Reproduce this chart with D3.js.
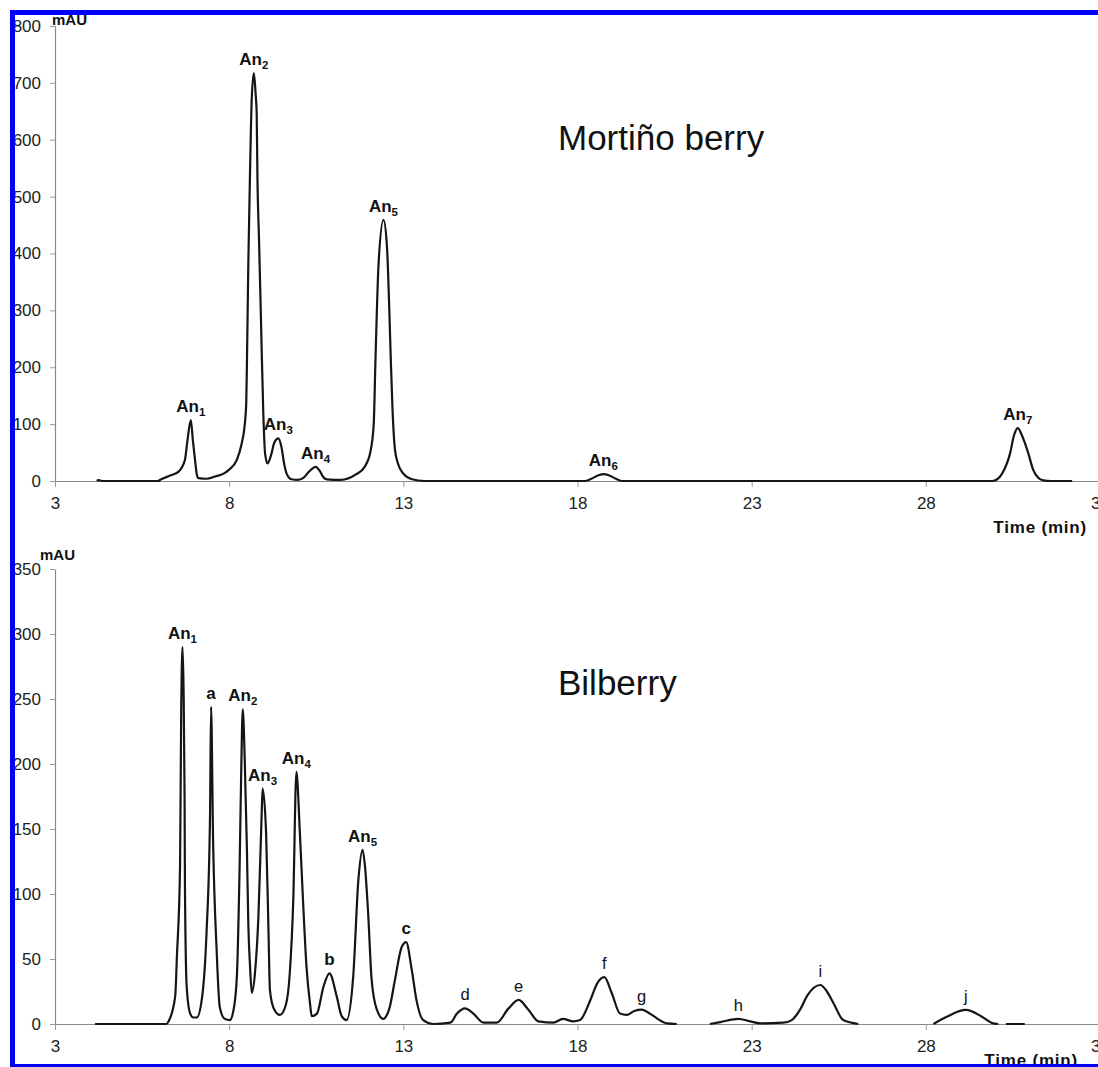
<!DOCTYPE html>
<html>
<head>
<meta charset="utf-8">
<script src="https://cdn.jsdelivr.net/npm/d3@7"></script>
<style>
  body { margin: 0; background: #fff; }
  svg { display: block; font-family: 'Liberation Sans', Arial, sans-serif; }
</style>
</head>
<body>
<script>
// retention time (min), absorbance (mAU); null = gap in the recorded trace
const mortinoTrace = [
  [4.2, 0], [4.25, 1.5], [4.35, 0], [5.95, 0], [6.05, 3], [6.32, 10], [6.54, 16],
  [6.73, 37], [6.8, 70], [6.9, 107], [6.96, 70], [7.02, 37], [7.07, 12], [7.12, 5],
  [7.35, 4], [7.6, 8], [7.84, 13], [8.0, 20], [8.22, 37], [8.36, 66], [8.44, 95],
  [8.49, 137], [8.51, 207], [8.55, 383], [8.6, 547], [8.65, 675], [8.71, 717],
  [8.76, 680], [8.79, 647], [8.81, 541], [8.86, 418], [8.92, 265], [8.98, 119],
  [9.03, 49], [9.1, 31], [9.2, 45], [9.3, 68], [9.41, 75], [9.5, 60], [9.58, 30],
  [9.65, 13], [9.79, 3], [9.95, 2], [10.12, 5], [10.3, 17], [10.48, 25], [10.6, 18],
  [10.7, 7], [10.8, 3], [11.2, 2], [11.65, 12], [11.88, 24], [12.05, 50], [12.15, 100],
  [12.2, 213], [12.29, 383], [12.43, 459], [12.53, 412], [12.6, 295], [12.64, 213],
  [12.69, 125], [12.76, 55], [12.85, 30], [13.0, 13], [13.25, 3], [13.6, 0],
  [18.2, 0], [18.4, 4], [18.6, 10], [18.74, 12], [18.9, 10], [19.1, 4], [19.3, 0],
  [29.9, 0], [30.05, 3], [30.2, 14], [30.42, 49], [30.53, 80], [30.64, 93], [30.76, 80],
  [30.94, 49], [31.08, 20], [31.22, 6], [31.37, 1], [31.6, 0], [32.2, 0],
];

const bilberryTrace = [
  [4.15, 0], [6.2, 0], [6.26, 2], [6.45, 21], [6.5, 52], [6.59, 121], [6.62, 231],
  [6.66, 290], [6.69, 259], [6.72, 174], [6.73, 108], [6.78, 29], [6.88, 8], [6.97, 5],
  [7.07, 5], [7.22, 20], [7.35, 70], [7.45, 159], [7.48, 244], [7.54, 139], [7.64, 57],
  [7.73, 13], [7.87, 4], [8.02, 3], [8.12, 10], [8.22, 36], [8.3, 121], [8.35, 200],
  [8.39, 242], [8.45, 200], [8.51, 134], [8.55, 77], [8.6, 44], [8.65, 24], [8.74, 39],
  [8.84, 83], [8.93, 159], [8.96, 181], [9.06, 147], [9.13, 70], [9.17, 26], [9.28, 12],
  [9.46, 7], [9.63, 15], [9.74, 39], [9.84, 95], [9.93, 194], [10.03, 147], [10.12, 95],
  [10.22, 44], [10.32, 16], [10.37, 6], [10.52, 8], [10.71, 29], [10.88, 39], [11.09, 21],
  [11.23, 6], [11.37, 3], [11.56, 36], [11.71, 111], [11.83, 134], [11.9, 121],
  [11.99, 85], [12.09, 34], [12.24, 11], [12.42, 4], [12.6, 12], [12.76, 34], [12.95, 59],
  [13.08, 63], [13.24, 42], [13.38, 18], [13.57, 3], [13.86, 0], [14.35, 1], [14.54, 8],
  [14.77, 12], [15.01, 8], [15.3, 1], [15.68, 1], [16.02, 12], [16.31, 18.5], [16.59, 11],
  [16.88, 2], [17.31, 1], [17.58, 4], [17.88, 2], [18.07, 3], [18.37, 18.5], [18.56, 31],
  [18.77, 36], [18.98, 24], [19.22, 8], [19.41, 7], [19.63, 10], [19.84, 11], [20.08, 8],
  [20.27, 4.5], [20.57, 0.5], [20.85, 0], [20.9, null],
  [21.8, 0], [22.1, 1.5], [22.62, 4], [22.96, 2], [23.24, 0.5], [23.91, 1], [24.15, 3],
  [24.39, 11], [24.6, 22], [24.97, 30], [25.16, 25], [25.35, 16], [25.63, 3], [26.06, 0],
  [26.1, null],
  [28.22, 0], [28.6, 5.6], [29.15, 10.8], [29.61, 5.6], [29.9, 0.8], [30.08, 0],
  [30.15, null], [30.3, 0], [30.84, 0],
];

// [label, subscript, time, mAU at peak]
const mortinoPeaks = [
  ['An', '1', 6.9, 107], ['An', '2', 8.71, 717], ['An', '3', 9.41, 75],
  ['An', '4', 10.48, 25], ['An', '5', 12.43, 459], ['An', '6', 18.74, 12],
  ['An', '7', 30.64, 93],
];

const bilberryPeaks = [
  ['An', '1', 6.66, 290], ['a', '', 7.48, 244], ['An', '2', 8.39, 242],
  ['An', '3', 8.96, 181], ['An', '4', 9.93, 194], ['b', '', 10.88, 39],
  ['An', '5', 11.83, 134], ['c', '', 13.08, 63], ['d', '', 14.77, 12],
  ['e', '', 16.31, 18.5], ['f', '', 18.77, 36], ['g', '', 19.84, 11],
  ['h', '', 22.62, 4], ['i', '', 24.97, 30], ['j', '', 29.15, 10.8],
];

const timeTicks = [3, 8, 13, 18, 23, 28, 33];
const mortinoTicks = [0, 100, 200, 300, 400, 500, 600, 700, 800];
const bilberryTicks = [0, 50, 100, 150, 200, 250, 300, 350];

const width = 1098;
const height = 1067;

const svg = d3.select('body').append('svg')
  .attr('width', width)
  .attr('height', height);

const x = d3.scaleLinear().domain([3, 33]).range([55, 1100]);

const panels = [
  { title: 'Mortiño berry', trace: mortinoTrace, peaks: mortinoPeaks, ticks: mortinoTicks,
    y: d3.scaleLinear().domain([0, 800]).range([481, 26]), titleY: 150, unitY: 25, timeX: 1087, timeY: 533 },
  { title: 'Bilberry', trace: bilberryTrace, peaks: bilberryPeaks, ticks: bilberryTicks,
    y: d3.scaleLinear().domain([0, 350]).range([1024, 569]), titleY: 695, unitY: 560, timeX: 1078, timeY: 1066 },
];

const lightLabels = new Set(['d', 'e', 'f', 'g', 'h', 'i', 'j']);

panels.forEach((p, pi) => {
  const g = svg.append('g');
  const y0 = p.y(0);

  // x axis
  const xAxis = g.append('g')
    .attr('transform', `translate(0,${y0})`)
    .call(d3.axisBottom(x).tickValues(timeTicks).tickSize(6).tickSizeOuter(0).tickPadding(10));
  // y axis
  const yAxis = g.append('g')
    .attr('transform', `translate(${x(3)},0)`)
    .call(d3.axisLeft(p.y).tickValues(p.ticks).tickSize(5).tickSizeOuter(0).tickPadding(9));

  [xAxis, yAxis].forEach((ax) => {
    ax.select('.domain').attr('stroke', '#8a8a8a').attr('stroke-width', 1.2);
    ax.selectAll('.tick line').attr('stroke', '#9a9a9a');
    ax.selectAll('.tick text')
      .attr('fill', '#222')
      .style('font-size', '17px')
      .style('font-family', "'Liberation Sans', Arial, sans-serif");
  });

  // chromatogram trace
  const line = d3.line()
    .defined((d) => d[1] != null)
    .x((d) => x(d[0]))
    .y((d) => p.y(d[1]))
    .curve(d3.curveMonotoneX);

  g.append('path')
    .datum(p.trace)
    .attr('fill', 'none')
    .attr('stroke', '#151515')
    .attr('stroke-width', 2.2)
    .attr('stroke-linejoin', 'round')
    .attr('d', line);

  // peak labels
  const labels = g.selectAll('text.peak')
    .data(p.peaks)
    .enter()
    .append('text')
    .attr('class', 'peak')
    .attr('x', (d) => x(d[2]))
    .attr('y', (d) => p.y(d[3]) - 8)
    .attr('text-anchor', 'middle')
    .attr('fill', '#111')
    .style('font-size', (d) => (lightLabels.has(d[0]) ? '16.5px' : '17px'))
    .style('font-weight', (d) => (lightLabels.has(d[0]) ? 'normal' : 'bold'))
    .text((d) => d[0]);

  labels.filter((d) => d[1])
    .append('tspan')
    .attr('dy', 4)
    .style('font-size', '11.5px')
    .text((d) => d[1]);

  // titles and axis names
  g.append('text')
    .attr('x', 558)
    .attr('y', p.titleY)
    .attr('fill', '#111')
    .style('font-size', '35px')
    .text(p.title);

  g.append('text')
    .attr('x', pi === 0 ? 52 : 40)
    .attr('y', p.unitY)
    .attr('fill', '#111')
    .style('font-size', '15px')
    .style('font-weight', 'bold')
    .text('mAU');

  g.append('text')
    .attr('x', p.timeX)
    .attr('y', p.timeY)
    .attr('text-anchor', 'end')
    .attr('fill', '#111')
    .style('font-size', '17px')
    .style('font-weight', 'bold')
    .style('letter-spacing', '0.8px')
    .text('Time (min)');
});

// blue frame drawn over everything
const frame = svg.append('g').attr('fill', '#0000ff');
frame.append('rect').attr('x', 10).attr('y', 10).attr('width', width - 10).attr('height', 5);
frame.append('rect').attr('x', 10).attr('y', 10).attr('width', 5).attr('height', height - 10);
frame.append('rect').attr('x', 10).attr('y', 1064).attr('width', width - 10).attr('height', 3);
</script>
</body>
</html>
